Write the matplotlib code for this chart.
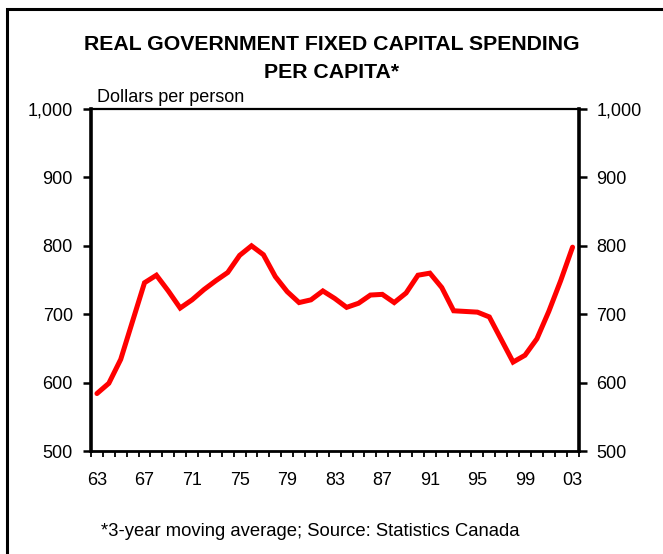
import matplotlib
matplotlib.use("Agg")
import matplotlib.pyplot as plt
from matplotlib.patches import Rectangle
from matplotlib.ticker import FixedLocator, FuncFormatter

plt.rcParams["font.family"] = ["Liberation Sans", "DejaVu Sans"]

# Real government fixed capital spending per capita (3-year moving average)
years = list(range(1963, 2004))
spending = [584, 599, 634, 690, 746, 757, 734, 709, 721, 736,
            749, 761, 786, 800, 787, 755, 733, 717, 721, 734,
            723, 710, 716, 728, 729, 717, 731, 757, 760, 739,
            705, 704, 703, 696, 663, 630, 640, 664, 704, 749,
            798]
label_years = list(range(1963, 2004, 4))
y_ticks = [500, 600, 700, 800, 900, 1000]

fig = plt.figure(figsize=(6.63, 5.54), dpi=100)
fig.patch.set_facecolor("white")

# Outer frame (continues past the right and bottom edges)
fig.add_artist(Rectangle((6.5 / 663, -0.1), 1.2, 1 - 9 / 554 + 0.1,
                         transform=fig.transFigure, fill=False,
                         edgecolor="black", linewidth=2.2, zorder=0))

ax = fig.add_axes([91 / 663, 1 - 451 / 554, (578.5 - 91) / 663, (451 - 109) / 554])
ax.plot(years, spending, color="#ff0000", linewidth=3.6, solid_joinstyle="miter",
        solid_capstyle="round", zorder=3)

ax.set_xlim(years[0] - 0.5, years[-1] + 0.5)
ax.set_ylim(500, 1000)

# Category boundaries as small ticks, labels every fourth year
ax.xaxis.set_minor_locator(FixedLocator([y - 0.5 for y in years] + [years[-1] + 0.5]))
ax.xaxis.set_major_locator(FixedLocator(label_years))
ax.xaxis.set_major_formatter(FuncFormatter(lambda v, p: f"{int(round(v)) % 100:02d}"))
ax.tick_params(axis="x", which="minor", direction="out", length=4, width=1.3, color="black")
ax.tick_params(axis="x", which="major", length=0, pad=15, labelsize=13)

ax.set_yticks(y_ticks)
ax.yaxis.set_major_formatter(FuncFormatter(lambda v, p: f"{int(v):,}"))
ax.tick_params(axis="y", which="major", direction="out", length=6, width=1.8,
               left=True, right=True, labelleft=True, labelright=True,
               pad=7, labelsize=13)

for side, lw in [("left", 2.6), ("right", 2.6), ("bottom", 2.0), ("top", 1.6)]:
    ax.spines[side].set_linewidth(lw)
    ax.spines[side].set_color("black")

fig.text(0.5, 1 - 45 / 554, "REAL GOVERNMENT FIXED CAPITAL SPENDING",
         ha="center", va="center", fontsize=15.3, fontweight="bold")
fig.text(0.5, 1 - 73 / 554, "PER CAPITA*",
         ha="center", va="center", fontsize=15.3, fontweight="bold")
fig.text(97 / 663, 1 - 98 / 554, "Dollars per person",
         ha="left", va="center", fontsize=13)
fig.text(101 / 663, 1 - 531 / 554, "*3-year moving average; Source: Statistics Canada",
         ha="left", va="center", fontsize=13.3)

fig.savefig("out.png", dpi=100, facecolor="white")
